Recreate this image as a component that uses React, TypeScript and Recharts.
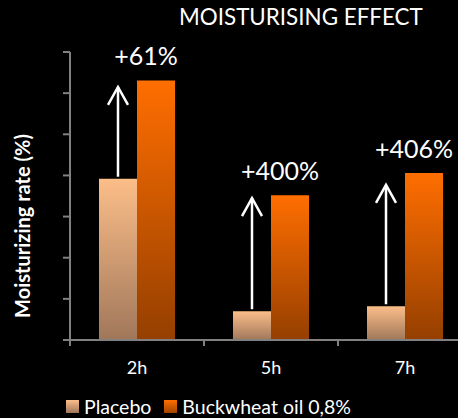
import { BarChart, Bar, XAxis, YAxis, Legend, LabelList } from "recharts";

const categories = ["2h", "5h", "7h"];
const placebo = [39.2, 7.0, 8.2];
const buckwheat = [63.1, 35.2, 40.6];
// where each white arrow ends (same units as the bars)
const arrowTips = [61.5, 34.5, 37.7];
const increases = ["+61%", "+400%", "+406%"];
const yTicks = [0, 10, 20, 30, 40, 50, 60, 70];

const data = categories.map((name, i) => ({
  name,
  placebo: placebo[i],
  buckwheat: buckwheat[i],
}));

const FONT = "Lato, 'Open Sans', sans-serif";
const AXIS = "#808080";
const CHART_W = 480;
const MARGIN = { top: 52, right: 8, left: 10, bottom: 0 };
const Y_W = 60;
const BAND = (CHART_W - MARGIN.left - MARGIN.right - Y_W) / categories.length;

const XTick = (props: any) => {
  const { x, y, payload } = props;
  const left = x - BAND / 2;
  return (
    <g>
      <line x1={left} x2={left} y1={y - 6} y2={y} stroke={AXIS} strokeWidth={2} />
      <text x={x} y={y + 28} fill="#fff" fontSize={18} fontFamily={FONT} textAnchor="middle">
        {payload.value}
      </text>
    </g>
  );
};

const ArrowLabel = (props: any) => {
  const { x, y, width, height, value, index } = props;
  const cx = x + width / 2;
  const tipY = y + height - (arrowTips[index] / value) * height;
  return (
    <g stroke="#fff" strokeWidth={2.5} fill="none">
      <line x1={cx} y1={y - 2} x2={cx} y2={tipY} />
      <polyline points={`${cx - 10},${tipY + 18} ${cx},${tipY} ${cx + 10},${tipY + 18}`} />
    </g>
  );
};

const IncreaseLabel = (props: any) => {
  const { x, y, index } = props;
  return (
    <text x={x + 9} y={y - 15} fill="#fff" fontSize={25} fontFamily={FONT} textAnchor="middle">
      {increases[index]}
    </text>
  );
};

const legendItems = [
  { label: "Placebo", bg: "linear-gradient(#fcbe89, #a0775a)" },
  { label: "Buckwheat oil 0,8%", bg: "linear-gradient(#ff6e00, #a04400)" },
];

const LegendContent = () => (
  <div
    style={{
      height: 30,
      display: "flex",
      alignItems: "center",
      paddingLeft: 66,
      paddingTop: 6,
      boxSizing: "border-box",
      fontFamily: FONT,
      fontSize: 19.5,
      color: "#fff",
      gap: 13,
    }}
  >
    {legendItems.map((d) => (
      <div key={d.label} style={{ display: "flex", alignItems: "center", gap: 5 }}>
        <span style={{ width: 13, height: 13, background: d.bg, display: "inline-block" }} />
        <span>{d.label}</span>
      </div>
    ))}
  </div>
);

export default function App() {
  return (
    <div
      style={{
        position: "absolute",
        left: 0,
        top: 0,
        width: 458,
        height: 418,
        overflow: "hidden",
        background: "#000",
      }}
    >
      <div
        style={{
          position: "absolute",
          top: 3,
          left: 179,
          color: "#fff",
          fontFamily: FONT,
          fontSize: 22.4,
          whiteSpace: "nowrap",
        }}
      >
        MOISTURISING EFFECT
      </div>
      <div
        style={{
          position: "absolute",
          left: 22,
          top: 226,
          transform: "translate(-50%, -50%) rotate(-90deg)",
          color: "#fff",
          fontFamily: FONT,
          fontSize: 20,
          fontWeight: "bold",
          whiteSpace: "nowrap",
          zIndex: 1,
        }}
      >
        Moisturizing rate (%)
      </div>
      <BarChart
        width={CHART_W}
        height={418}
        data={data}
        margin={MARGIN}
        barCategoryGap={29}
        barGap={0}
      >
        <defs>
          <linearGradient id="gPlacebo" x1="0" y1="0" x2="0" y2="1">
            <stop offset="0%" stopColor="#fcbe89" />
            <stop offset="100%" stopColor="#a0775a" />
          </linearGradient>
          <linearGradient id="gBuck" x1="0" y1="0" x2="0" y2="1">
            <stop offset="0%" stopColor="#ff6e00" />
            <stop offset="100%" stopColor="#953f00" />
          </linearGradient>
        </defs>
        <XAxis
          dataKey="name"
          height={48}
          axisLine={{ stroke: AXIS, strokeWidth: 2 }}
          tickLine={false}
          tickSize={6}
          tickMargin={0}
          tick={<XTick />}
          interval={0}
        />
        <YAxis
          width={Y_W}
          domain={[0, 70]}
          ticks={yTicks}
          axisLine={{ stroke: AXIS, strokeWidth: 2 }}
          tickLine={{ stroke: AXIS, strokeWidth: 2 }}
          tickSize={7}
          tickFormatter={() => ""}
        />
        <Legend
          verticalAlign="bottom"
          content={<LegendContent />}
          wrapperStyle={{ left: 0, width: 458 }}
        />
        <Bar dataKey="placebo" name="Placebo" fill="url(#gPlacebo)" isAnimationActive={false}>
          <LabelList dataKey="placebo" content={<ArrowLabel />} />
        </Bar>
        <Bar dataKey="buckwheat" name="Buckwheat oil 0,8%" fill="url(#gBuck)" isAnimationActive={false}>
          <LabelList dataKey="buckwheat" content={<IncreaseLabel />} />
        </Bar>
      </BarChart>
    </div>
  );
}
